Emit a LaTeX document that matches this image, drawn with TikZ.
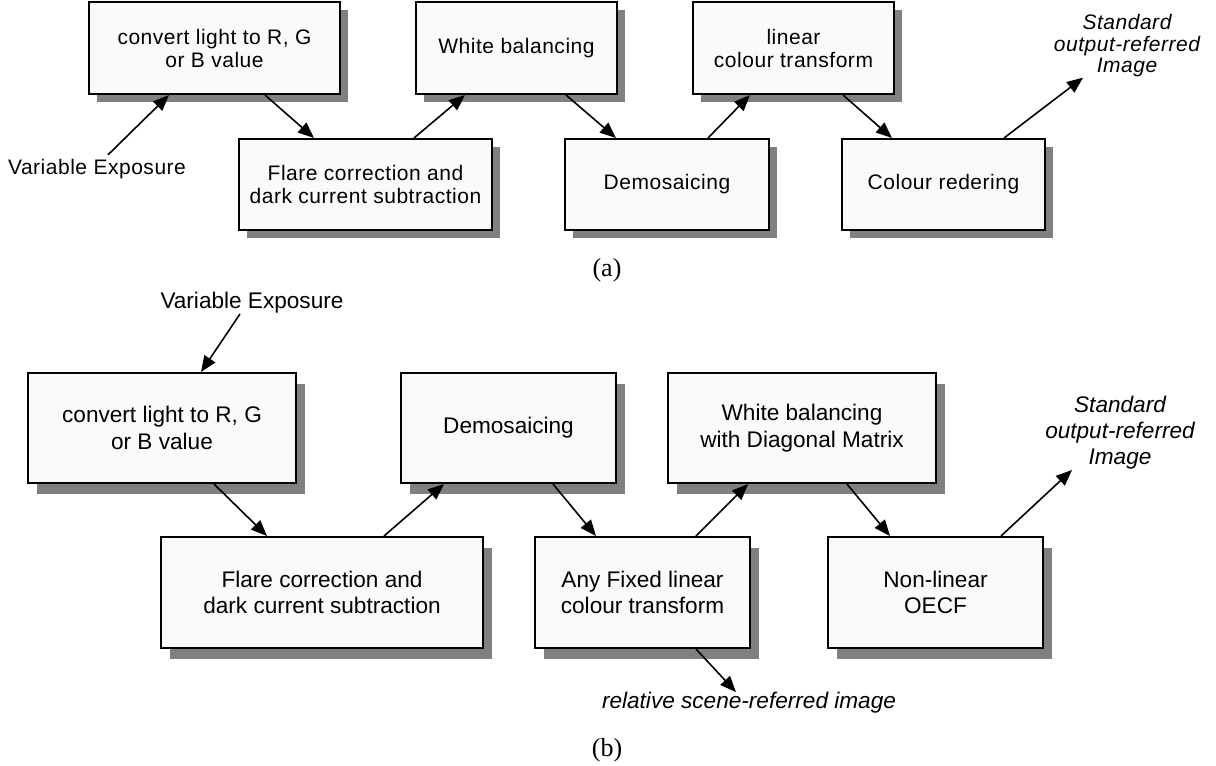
\documentclass[tikz,border=0pt]{standalone}
\usepackage{fontspec}
\setmainfont{Liberation Serif}
\newfontfamily\arialfont{Liberation Sans}
\newfontfamily\arialwide[LetterSpace=2.5]{Liberation Sans}
\usetikzlibrary{shapes, arrows.meta, positioning, shadows}

\definecolor{boxfill}{RGB}{250,250,250}
\definecolor{shadowgray}{RGB}{128,128,128}

\begin{document}
\begin{tikzpicture}[
        x=0.5pt, y=-0.5pt,
        boxbase/.style={rectangle, draw, line width=1pt, fill=boxfill, align=center, anchor=north west, inner sep=0pt},
        topblock/.style={boxbase, font=\arialwide\fontsize{10.5}{11.5}\selectfont,
            drop shadow={shadow xshift=4pt, shadow yshift=-4pt, fill=shadowgray, opacity=1}},
        botblock/.style={boxbase, font=\arialfont\fontsize{11.3}{13.3}\selectfont,
            drop shadow={shadow xshift=4.5pt, shadow yshift=-5.5pt, fill=shadowgray, opacity=1}},
        toplabel/.style={align=center, inner sep=0pt, font=\arialwide\fontsize{10.5}{10.75}\selectfont},
        botlabel/.style={align=center, inner sep=0pt, font=\arialfont\fontsize{11.3}{13}\selectfont},
        caption/.style={inner sep=0pt, font=\fontsize{13}{15}\selectfont},
        arrow/.style={line width=0.8pt, -{Triangle[length=8pt, width=6.5pt]}}
    ]
    \useasboundingbox (0,0) rectangle (1216,766);

    % (a) pipeline
    \node [topblock, minimum width=125.5pt, minimum height=46pt] (a1) at (88,1) {convert light to R, G\\ or B value};
    \node [topblock, minimum width=126.5pt, minimum height=45.5pt] (a2) at (238,138) {Flare correction and\\ dark current subtraction};
    \node [topblock, minimum width=100.5pt, minimum height=46pt] (a3) at (415,1) {White balancing};
    \node [topblock, minimum width=102pt, minimum height=45.5pt] (a4) at (564,138) {Demosaicing};
    \node [topblock, minimum width=100.5pt, minimum height=46pt] (a5) at (692,1) {linear\\ colour transform};
    \node [topblock, minimum width=101.5pt, minimum height=45.5pt] (a6) at (841,138) {Colour redering};

    \node [toplabel] (vea) at (97,169) {Variable Exposure};
    \node [toplabel] (stda) at (1127,46) {\itshape Standard\\ \itshape output-referred\\ \itshape Image};
    \node [caption] (capa) at (607,270) {(a)};

    \draw [arrow] ([xshift=5.5pt, yshift=2pt]vea.north) -- ([xshift=-22.75pt]a1.south);
    \draw [arrow] ([xshift=25.25pt]a1.south) -- ([xshift=-25.75pt]a2.north);
    \draw [arrow] ([xshift=24.25pt]a2.north) -- ([xshift=-25.75pt]a3.south);
    \draw [arrow] ([xshift=24.75pt]a3.south) -- ([xshift=-25.5pt]a4.north);
    \draw [arrow] ([xshift=20.5pt]a4.north) -- ([xshift=-21.75pt]a5.south);
    \draw [arrow] ([xshift=24.75pt]a5.south) -- ([xshift=-25.75pt]a6.north);
    \draw [arrow] ([xshift=30.25pt]a6.north) -- ([xshift=-22pt]stda.south);

    % (b) pipeline
    \node [botblock, minimum width=134pt, minimum height=55pt] (b1) at (27,372) {convert light to R, G\\ or B value};
    \node [botblock, minimum width=161pt, minimum height=55.5pt] (b2) at (160,536) {Flare correction and\\ dark current subtraction};
    \node [botblock, minimum width=107.5pt, minimum height=55pt] (b3) at (400,372) {Demosaicing};
    \node [botblock, minimum width=107.5pt, minimum height=55.5pt] (b4) at (534,536) {Any Fixed linear\\ colour transform};
    \node [botblock, minimum width=134pt, minimum height=55pt] (b5) at (667,372) {White balancing\\ with Diagonal Matrix};
    \node [botblock, minimum width=107.5pt, minimum height=55.5pt] (b6) at (827,536) {Non-linear\\ OECF};

    \node [botlabel] (veb) at (252,303) {Variable Exposure};
    \node [botlabel] (stdb) at (1120,433) {\itshape Standard\\ \itshape output-referred\\ \itshape Image};
    \node [botlabel] (rel) at (749,703) {\itshape relative scene-referred image};
    \node [caption] (capb) at (607,750) {(b)};

    \draw [arrow] ([xshift=-6pt]veb.south) -- ([xshift=19.5pt]b1.north);
    \draw [arrow] ([xshift=26pt]b1.south) -- ([xshift=-27.5pt]b2.north);
    \draw [arrow] ([xshift=31pt]b2.north) -- ([xshift=-32.25pt]b3.south);
    \draw [arrow] ([xshift=22.25pt]b3.south) -- ([xshift=-23.25pt]b4.north);
    \draw [arrow] ([xshift=26.75pt]b4.north) -- ([xshift=-27pt]b5.south);
    \draw [arrow] ([xshift=22.5pt]b5.south) -- ([xshift=-22.75pt]b6.north);
    \draw [arrow] ([xshift=32.75pt]b6.north) -- ([xshift=-24pt]stdb.south);
    \draw [arrow] ([xshift=26.75pt]b4.south) -- ([xshift=-6.5pt]rel.north);

\end{tikzpicture}
\end{document}
